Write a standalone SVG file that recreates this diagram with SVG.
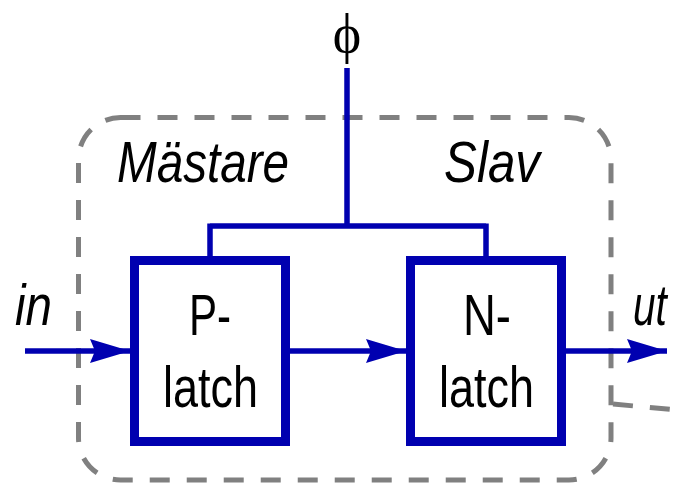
<svg xmlns="http://www.w3.org/2000/svg" width="677" height="483" viewBox="0 0 677 483">
  <style>
    .boundary { fill: none; stroke: #808080; stroke-width: 5; stroke-dasharray: 20 17; }
    .box { fill: #ffffff; stroke: #0000b0; stroke-width: 9; }
    .wire { fill: none; stroke: #0000b0; stroke-width: 5.5; }
    .lbl { font-family: "Liberation Sans", Arial, sans-serif; font-size: 58px; fill: #000000; }
    .it { font-style: italic; }
  </style>
  <defs>
    <marker id="arrow" viewBox="0 0 40 24" refX="40" refY="12" markerWidth="40" markerHeight="24" markerUnits="userSpaceOnUse" orient="auto">
      <path d="M0,0 L40,12 L0,24 L5,12 Z" fill="#0000b0"/>
    </marker>
  </defs>

  <!-- master/slave boundary -->
  <g id="boundary">
    <rect class="boundary" x="78.5" y="117.5" width="532.5" height="362.5" rx="42" ry="42"/>
    <path class="boundary" d="M613,404 L677,410"/>
  </g>

  <g id="labels">
    <text class="lbl it" x="117" y="182" textLength="172" lengthAdjust="spacingAndGlyphs">Mästare</text>
    <text class="lbl it" x="444" y="182" textLength="96" lengthAdjust="spacingAndGlyphs">Slav</text>
    <text x="347" y="52" text-anchor="middle" font-family="'Liberation Serif', 'Times New Roman', serif" font-size="54">ϕ</text>
  </g>

  <!-- connectors -->
  <g id="connectors">
    <path class="wire" d="M347,68 V226 M210,226 H486 M210,223.5 V258 M486,223.5 V258"/>
    <path class="wire" d="M25,351 H130" marker-end="url(#arrow)"/>
    <path class="wire" d="M287,351 H406" marker-end="url(#arrow)"/>
    <path class="wire" d="M564,351 H667" marker-end="url(#arrow)"/>
  </g>

  <g id="p-latch">
    <rect class="box" x="134.5" y="260.5" width="151" height="181"/>
    <text class="lbl" x="210" y="335" text-anchor="middle" textLength="42" lengthAdjust="spacingAndGlyphs">P-</text>
    <text class="lbl" x="210.5" y="407" text-anchor="middle" textLength="95" lengthAdjust="spacingAndGlyphs">latch</text>
  </g>

  <g id="n-latch">
    <rect class="box" x="410.5" y="260.5" width="151" height="181"/>
    <text class="lbl" x="487" y="335" text-anchor="middle" textLength="48" lengthAdjust="spacingAndGlyphs">N-</text>
    <text class="lbl" x="486.5" y="407" text-anchor="middle" textLength="95" lengthAdjust="spacingAndGlyphs">latch</text>
  </g>

  <g id="in">
    <text class="lbl it" x="15" y="325" textLength="37" lengthAdjust="spacingAndGlyphs">in</text>
  </g>
  <g id="ut">
    <!-- narrowed horizontally so it stays inside the right edge -->
    <text class="lbl it" transform="translate(633,325) scale(0.7,1)">ut</text>
  </g>
</svg>
